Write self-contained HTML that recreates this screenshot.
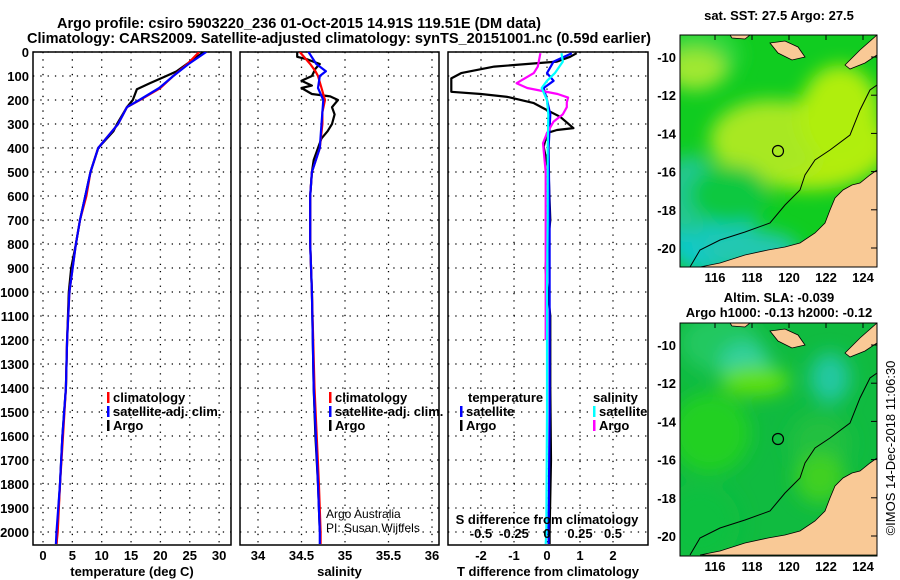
<!DOCTYPE html>
<html><head><meta charset="utf-8"><style>
html,body{margin:0;padding:0;background:#fff;}
svg{display:block;font-family:"Liberation Sans",sans-serif;}
</style></head><body>
<svg id="chart" width="900" height="580" viewBox="0 0 900 580" xmlns="http://www.w3.org/2000/svg">
<defs>
<filter id="blur" x="-20%" y="-20%" width="140%" height="140%"><feGaussianBlur stdDeviation="9"/></filter>
<clipPath id="c1"><rect x="33" y="52" width="198" height="493"/></clipPath>
<clipPath id="c2"><rect x="240" y="52" width="199" height="493"/></clipPath>
<clipPath id="c3"><rect x="448" y="52" width="200" height="493"/></clipPath>
<clipPath id="m1"><rect x="680" y="35" width="197" height="232"/></clipPath>
<clipPath id="m2"><rect x="680" y="323" width="197" height="233"/></clipPath>
</defs>
<g font-weight="bold" font-size="15" text-anchor="middle">
<text x="299" y="28" textLength="484" lengthAdjust="spacingAndGlyphs">Argo profile: csiro 5903220_236 01-Oct-2015 14.91S 119.51E (DM data)</text>
<text x="339" y="43" textLength="624" lengthAdjust="spacingAndGlyphs">Climatology: CARS2009. Satellite-adjusted climatology: synTS_20151001.nc (0.59d earlier)</text>
</g>
<g id="g-axes"></g>
<g id="g-maps"></g>
<text x="779" y="20" font-size="13" font-weight="bold" text-anchor="middle">sat. SST: 27.5 Argo: 27.5</text>
<text x="779" y="302" font-size="13" font-weight="bold" text-anchor="middle">Altim. SLA: -0.039</text>
<text x="779" y="317" font-size="13" font-weight="bold" text-anchor="middle">Argo h1000: -0.13 h2000: -0.12</text>
<text x="0" y="0" font-size="13" text-anchor="middle" transform="translate(895,448) rotate(-90)">©IMOS 14-Dec-2018 11:06:30</text>
<text x="326" y="518" font-size="12">Argo Australia</text>
<text x="326" y="532" font-size="12">PI: Susan Wijffels</text>
</svg>
<script>
// ---- data ----
const depthTicks=[0,100,200,300,400,500,600,700,800,900,1000,1100,1200,1300,1400,1500,1600,1700,1800,1900,2000];
const tempTicks=[0,5,10,15,20,25,30];
const salTicks=[34,34.5,35,35.5,36];
const salTickLabels=["34","34.5","35","35.5","36"];
const tdTicks=[-2,-1,0,1,2];
const sdTicks=[-0.5,-0.25,0,0.25,0.5];
const sdTickLabels=["-0.5","-0.25","0","0.25","0.5"];
const tArgoDepth=[0,50,80,100,130,155,200,230,300,330,400,500,600,700,800,900,1000,1200,1400,1600,1800,2000,2050];
const tArgo=[27.4,24.5,22.8,21,18.2,16,15.3,14.3,12.6,12,9.4,8.1,7.2,6.3,5.6,4.8,4.4,4.1,3.9,3.3,2.9,2.4,2.3];
const tClimDepth=[0,50,100,150,200,230,300,400,500,600,700,800,1000,1200,1400,1600,1800,2000,2050];
const tClim=[26.6,24.6,22.2,20,16.5,14.3,12.8,9.4,8.1,7.4,6.3,5.6,4.5,4.1,3.9,3.4,2.9,2.5,2.3];
const tSat=[27.8,24.8,22.2,19.8,16.4,14.3,12.8,9.4,8.1,7.2,6.3,5.6,4.5,4.1,3.9,3.3,2.9,2.3,2.2];
const sArgoDepth=[0,20,30,50,70,100,120,140,150,175,185,200,230,260,300,330,360,400,450,500,600,800,1000,1200,1400,1600,1800,1900,2000];
const sArgo=[34.45,34.45,34.56,34.71,34.66,34.62,34.5,34.62,34.5,34.62,34.83,34.92,34.85,34.88,34.85,34.8,34.73,34.69,34.64,34.62,34.6,34.6,34.62,34.63,34.64,34.66,34.69,34.7,34.71];
const sClimDepth=[0,50,80,100,150,200,250,300,400,500,600,800,1000,1400,1800,2000,2050];
const sClim=[34.48,34.6,34.66,34.69,34.73,34.77,34.74,34.74,34.71,34.62,34.6,34.6,34.62,34.65,34.7,34.72,34.72];
const sSat=[34.58,34.67,34.78,34.71,34.69,34.75,34.74,34.73,34.71,34.62,34.6,34.6,34.62,34.64,34.69,34.71,34.71];
const dArgoDepth=[5,20,40,61,88,110,166,175,187,213,242,270,317,325,338,395,500,700,900,1100,1400,1700,2000,2050];
const dTArgo=[0.9,0.7,0.3,-1.6,-2.6,-2.9,-2.9,-2.0,-1.2,-0.4,0.0,0.4,0.8,0.3,0.0,-0.1,0.05,0.1,-0.05,0.1,0.1,0.12,0.08,0.08];
const dSatDepth=[5,40,88,120,150,200,260,400,700,1000,1500,2000,2050];
const dTSat=[0.75,0.2,0.0,0.2,-0.1,0.0,0.1,0.05,0.08,0.08,0.08,0.05,0.05];
const dSSat=[0.11,0.12,0.06,0.0,-0.04,0.0,0.01,0.005,0.005,0.0,0.0,-0.005,-0.01];
const dSArgoDepth=[5,61,88,130,150,175,190,210,230,260,290,338,380,500,800,1100,1200];
const dSArgo=[-0.05,-0.07,-0.1,-0.23,-0.15,0.08,0.16,0.15,0.15,0.12,0.05,0.0,-0.03,-0.01,-0.01,-0.01,-0.01];
const lonTicks=[116,118,120,122,124];
const latTicks=[-10,-12,-14,-16,-18,-20];
// ---- scales ----
const NS="http://www.w3.org/2000/svg";
const yD=d=>52+d*0.24;
const xT=t=>43+t*5.87;
const xS=s=>258+(s-34)*87;
const xTD=t=>547+t*33;
const xSD=s=>547+s*132;
function el(tag,attrs,parent){const e=document.createElementNS(NS,tag);for(const k in attrs)e.setAttribute(k,attrs[k]);parent.appendChild(e);return e;}
const axes=document.getElementById('g-axes');
function txt(parent,x,y,s,anchor,size,bold){const t=el('text',{x:x,y:y,'font-size':size||13,'text-anchor':anchor||'middle','font-weight':bold===false?'normal':'bold'},parent);t.textContent=s;return t;}
function panel(name,x0,x1,xs,ticks,labels,title,clip){
  const g=el('g',{},axes);
  
  
  ticks.forEach(v=>{const x=xs(v);if(x>x0+2&&x<x1-2)el('line',{x1:x,y1:52,x2:x,y2:545,stroke:'#000','stroke-width':1.3,'stroke-dasharray':'1.3 6'},g);});
  depthTicks.forEach(d=>{el('line',{x1:x0,y1:yD(d),x2:x1,y2:yD(d),stroke:'#000','stroke-width':1.3,'stroke-dasharray':'1.3 6'},g);});
  el('rect',{x:x0,y:52,width:x1-x0,height:493,fill:'none',stroke:'#000','stroke-width':1.5},g);
  if(labels){ticks.forEach((v,i)=>{const t=txt(g,xs(v),560,labels[i]);});}
  const tt=txt(g,(x0+x1)/2,576,title);
  
  
  const lines=el('g',{'clip-path':'url(#'+clip+')'},g);
  return lines;
}
function line(parent,name,ds,vs,xs,color,w){
  const p=el('polyline',{points:ds.map((d,i)=>xs(vs[i]).toFixed(1)+','+yD(d).toFixed(1)).join(' '),fill:'none',stroke:color,'stroke-width':w||2.2,'stroke-linejoin':'round'},parent);
  
  
}
const yl=el('g',{},axes);


depthTicks.forEach(d=>txt(yl,29,yD(d)+5,String(d),'end'));
const p1=panel('temperature-panel',33,231,xT,tempTicks,tempTicks.map(String),'temperature (deg C)','c1');
line(p1,'temp-argo-line',tArgoDepth,tArgo,xT,'#000');
line(p1,'temp-climatology-line',tClimDepth,tClim,xT,'#f00');
line(p1,'temp-satellite-line',tClimDepth,tSat,xT,'#00f');
const p2=panel('salinity-panel',240,439,xS,salTicks,salTickLabels,'salinity','c2');
line(p2,'sal-argo-line',sArgoDepth,sArgo,xS,'#000');
line(p2,'sal-climatology-line',sClimDepth,sClim,xS,'#f00');
line(p2,'sal-satellite-line',sClimDepth,sSat,xS,'#00f');
const p3=panel('difference-panel',448,648,xTD,tdTicks,tdTicks.map(String),'T difference from climatology','c3');
line(p3,'tdiff-argo-line',dArgoDepth,dTArgo,xTD,'#000');
line(p3,'tdiff-satellite-line',dSatDepth,dTSat,xTD,'#00f');
line(p3,'sdiff-argo-line',dSArgoDepth,dSArgo,xSD,'#f0f');
line(p3,'sdiff-satellite-line',dSatDepth,dSSat,xSD,'#0ff');
const sl=el('g',{},axes);


txt(sl,547,524,'S difference from climatology');
sdTicks.forEach((v,i)=>txt(sl,xSD(v),538,sdTickLabels[i]));
function legend(x,y,entries){
  entries.forEach((e,i)=>{
    const g=el('g',{},axes);
    
    
    el('rect',{x:x,y:y+i*14-10,width:2.5,height:11,fill:e[1]},g);
    txt(g,x+6,y+i*14,e[0],'start');
  });
}
legend(107,402,[['climatology','#f00'],['satellite-adj. clim.','#00f'],['Argo','#000']]);
legend(329,402,[['climatology','#f00'],['satellite-adj. clim.','#00f'],['Argo','#000']]);
txt(axes,468,402,'temperature','start');
txt(axes,593,402,'salinity','start');
legend(460,416,[['satellite','#00f'],['Argo','#000']]);
legend(593,416,[['satellite','#0ff'],['Argo','#f0f']]);
const maps=document.getElementById('g-maps');
const landRel=[[20,232],[40,228],[65,220],[88,215],[105,212],[120,208],[135,198],[145,188],[150,175],[155,163],[163,155],[172,150],[180,148],[190,140],[197,135],[197,232]];
const bathyRel=[[10,232],[20,215],[40,205],[65,197],[90,188],[105,170],[120,155],[125,140],[135,125],[150,115],[170,100],[180,75],[190,55],[197,50]];
function drawMap(name,x0,y0,h,blobs,base){
  const g=el('g',{'clip-path':'url(#'+(y0<100?'m1':'m2')+')'},maps);
  
  
  el('rect',{x:x0,y:y0,width:197,height:h,fill:base},g);
  const bg=el('g',{filter:'url(#blur)'},g);
  blobs.forEach(b=>el('ellipse',{cx:x0+b[0],cy:y0+b[1],rx:b[2],ry:b[3],fill:b[4]},bg));
  el('polygon',{points:landRel.map(p=>(x0+p[0])+','+(y0+p[1])).join(' '),fill:'#f9c996',stroke:'#000','stroke-width':0.8},g);
  el('polygon',{points:[[90,8],[105,6],[118,12],[125,22],[112,25],[98,18]].map(p=>(x0+p[0])+','+(y0+p[1])).join(' '),fill:'#f9c996',stroke:'#000','stroke-width':0.8},g);
  el('polygon',{points:[[165,30],[180,15],[197,0],[197,20],[185,28],[170,34]].map(p=>(x0+p[0])+','+(y0+p[1])).join(' '),fill:'#f9c996',stroke:'#000','stroke-width':0.8},g);
  el('polygon',{points:[[50,0],[70,0],[65,4],[52,3]].map(p=>(x0+p[0])+','+(y0+p[1])).join(' '),fill:'#f9c996',stroke:'#000','stroke-width':0.8},g);
  el('polyline',{points:bathyRel.map(p=>(x0+p[0])+','+(y0+p[1])).join(' '),fill:'none',stroke:'#000','stroke-width':1},g);
  const c=el('circle',{cx:778,cy:y0+116,r:5.5,fill:'none',stroke:'#000','stroke-width':1.2},maps);
  
  
  el('rect',{x:x0,y:y0,width:197,height:h,fill:'none',stroke:'#000','stroke-width':1},maps);
  const lat0=y0+22;
  latTicks.forEach(v=>{const y=lat0+(-10-v)*19.1;txt(maps,676,y+5,String(v),'end');el('line',{x1:x0+197,y1:y,x2:x0+191,y2:y,stroke:'#000'},maps);});
  lonTicks.forEach(v=>{const x=715+(v-116)*18.5;txt(maps,x,y0+h+15,String(v));el('line',{x1:x,y1:y0,x2:x,y2:y0+5,stroke:'#000'},maps);});
}
drawMap('sst-map',680,35,232,[
  [20,20,40,30,'#30d840'],[15,35,30,20,'#a0e830'],[130,110,80,45,'#b4ec10'],[90,105,60,40,'#a8e820'],
  [160,80,40,50,'#b0ee10'],[30,200,45,40,'#10c8c8'],[70,215,50,20,'#20c8b0'],[10,160,30,40,'#20c890'],[50,160,40,30,'#10c840']
],'#10cc20');
drawMap('sla-map',680,323,233,[
  [40,20,40,30,'#20c860'],[65,40,25,20,'#30d0a0'],[150,55,20,25,'#20c8a0'],[75,58,35,15,'#60e010'],
  [30,110,40,40,'#20d020'],[140,120,30,30,'#20c040'],[20,200,40,40,'#10c040'],[140,155,25,25,'#40d020']
],'#10bb40');
</script>
</body></html>
